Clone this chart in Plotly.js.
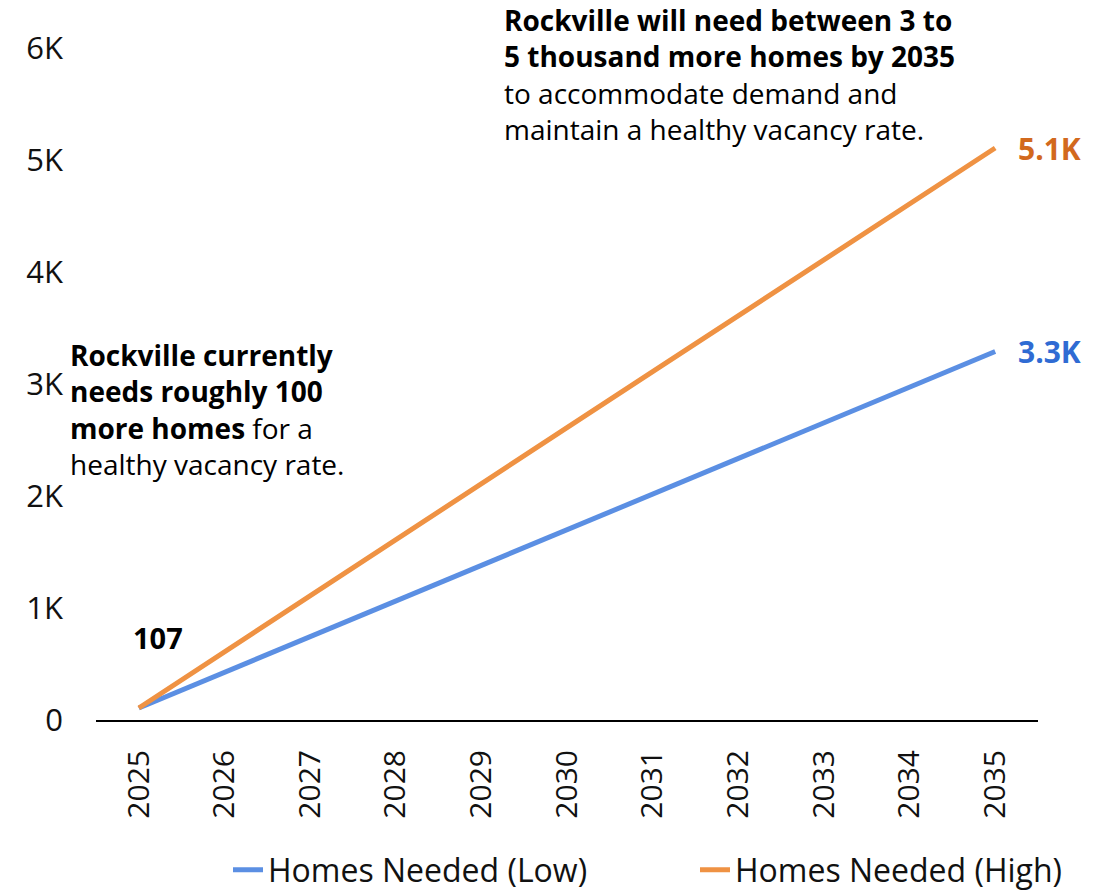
<!DOCTYPE html>
<html>
<head>
<meta charset="utf-8">
<script src="https://cdn.plot.ly/plotly-3.0.1.min.js"></script>
<style>html,body{margin:0;padding:0;background:#fff}#chart{width:1112px;height:892px}</style>
</head>
<body>
<div id="chart"></div>
<script>
const years = ["2025","2026","2027","2028","2029","2030","2031","2032","2033","2034","2035"];
const homesLow = [107, 425, 745, 1065, 1380, 1700, 2015, 2335, 2655, 2970, 3290];
const homesHigh = [107, 610, 1110, 1610, 2110, 2610, 3110, 3610, 4110, 4610, 5107];
const yTickVals = [0, 1000, 2000, 3000, 4000, 5000, 6000];
const yTickText = ["0", "1K", "2K", "3K", "4K", "5K", "6K"];
const endLabelLow = "3.3K";
const endLabelHigh = "5.1K";
const noteNow = ["<b>Rockville currently</b>", "<b>needs roughly 100</b>", "<b>more homes</b> for a", "healthy vacancy rate."];
const noteFuture = ["<b>Rockville will need between 3 to</b>", "<b>5 thousand more homes by 2035</b>", "to accommodate demand and", "maintain a healthy vacancy rate."];

const FONT = "'Open Sans', 'Noto Sans', sans-serif";
const L = 96, R = 74, T = 48, B = 172, W = 1112, H = 892;
const pw = W - L - R, ph = H - T - B;
const px = x => (x - L) / pw;
const py = y => (H - B - y) / ph;
const first = 0, last = years.length - 1;

const traces = [
  {x: years, y: homesLow, name: "Homes Needed (Low)", type: "scatter", mode: "lines",
   line: {color: "#5B8FE3", width: 5}, legend: "legend"},
  {x: years, y: homesHigh, name: "Homes Needed (High)", type: "scatter", mode: "lines",
   line: {color: "#EF9243", width: 5}, legend: "legend2"}
];

const annotations = [
  {x: first, y: homesLow[first], xref: "x", yref: "y", text: "<b>" + homesLow[first] + "</b>",
   showarrow: false, xshift: 19, yshift: 71, font: {family: FONT, size: 29, color: "#000"}},
  {x: last, y: homesHigh[last], xref: "x", yref: "y", text: "<b>" + endLabelHigh + "</b>",
   showarrow: false, xanchor: "left", xshift: 21, font: {family: FONT, size: 30, color: "#D2691E"}},
  {x: last, y: homesLow[last], xref: "x", yref: "y", text: "<b>" + endLabelLow + "</b>",
   showarrow: false, xanchor: "left", xshift: 21, font: {family: FONT, size: 30, color: "#2F6BD3"}},
  {x: px(69), y: py(409), xref: "paper", yref: "paper", xanchor: "left", yanchor: "middle",
   align: "left", showarrow: false, borderpad: 0, font: {family: FONT, size: 28, color: "#000"},
   text: noteNow.join("<br>")},
  {x: px(503), y: py(75), xref: "paper", yref: "paper", xanchor: "left", yanchor: "middle",
   align: "left", showarrow: false, borderpad: 0, font: {family: FONT, size: 28, color: "#000"},
   text: noteFuture.join("<br>")}
];

const legendFont = {family: FONT, size: 32, color: "#111"};
const layout = {
  width: W, height: H,
  margin: {l: L, r: R, t: T, b: B, autoexpand: false},
  paper_bgcolor: "#fff", plot_bgcolor: "#fff",
  font: {family: FONT, size: 26, color: "#111"},
  xaxis: {type: "category", range: [-0.5, 10.5], tickangle: -90, automargin: false,
    showgrid: false, zeroline: false, showline: true, linecolor: "#000", linewidth: 2,
    ticks: "", ticklabelstandoff: 16, tickfont: {family: FONT, size: 30, color: "#111"}},
  yaxis: {range: [0, 6000], tickvals: yTickVals, ticktext: yTickText, automargin: false,
    showgrid: false, zeroline: false, showline: false, ticks: "",
    ticklabelstandoff: 32, tickfont: {family: FONT, size: 31, color: "#111"}},
  showlegend: true,
  legend: {orientation: "h", x: px(228), y: py(870), xanchor: "left", yanchor: "middle",
    bgcolor: "rgba(0,0,0,0)", font: legendFont},
  legend2: {orientation: "h", x: px(695), y: py(870), xanchor: "left", yanchor: "middle",
    bgcolor: "rgba(0,0,0,0)", font: legendFont},
  annotations: annotations
};

Plotly.newPlot("chart", traces, layout, {displayModeBar: false, staticPlot: true});
</script>
</body>
</html>
